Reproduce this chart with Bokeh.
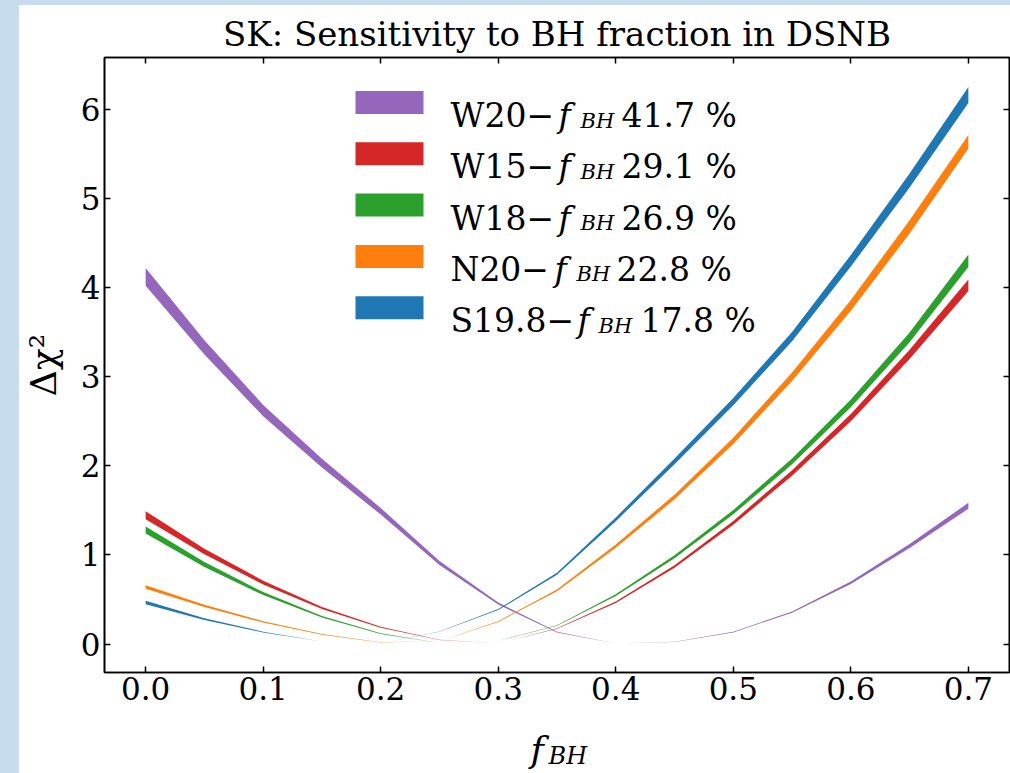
from bokeh.embed import file_html
from bokeh.layouts import column, row
from bokeh.models import (BoxAnnotation, FixedTicker, Label, LinearAxis, Plot,
                          PrintfTickFormatter, Range1d, Spacer)
from bokeh.plotting import figure
from bokeh.resources import INLINE

# ---------------------------------------------------------------- data
f_bh = [0.00, 0.05, 0.10, 0.15, 0.20, 0.25, 0.30, 0.35,
        0.40, 0.45, 0.50, 0.55, 0.60, 0.65, 0.70]

# Delta chi^2 bands (lower / upper edge) for each progenitor model
w20_lo = [4.02, 3.25, 2.557, 1.981, 1.454, 0.888, 0.444, 0.132,
          0.0078, 0.0245, 0.132, 0.353, 0.676, 1.078, 1.52]
w20_hi = [4.22, 3.41, 2.683, 2.079, 1.526, 0.932, 0.466, 0.138,
          0.0082, 0.0255, 0.138, 0.367, 0.704, 1.122, 1.585]

w15_lo = [1.40, 1.009, 0.669, 0.394, 0.183, 0.0456, 0.0078, 0.172,
          0.462, 0.856, 1.338, 1.889, 2.499, 3.198, 3.96]
w15_hi = [1.49, 1.071, 0.711, 0.418, 0.195, 0.0484, 0.0082, 0.178,
          0.478, 0.884, 1.382, 1.951, 2.581, 3.302, 4.09]

w18_lo = [1.24, 0.866, 0.550, 0.298, 0.1145, 0.0116, 0.0344, 0.2067,
          0.541, 0.964, 1.456, 2.017, 2.657, 3.385, 4.23]
w18_hi = [1.32, 0.920, 0.584, 0.316, 0.1215, 0.0124, 0.0356, 0.2133,
          0.559, 0.996, 1.504, 2.083, 2.743, 3.495, 4.37]

n20_lo = [0.62, 0.417, 0.2425, 0.1067, 0.0194, 0.0354, 0.249, 0.594,
          1.082, 1.624, 2.244, 2.952, 3.739, 4.605, 5.56]
n20_hi = [0.66, 0.443, 0.2575, 0.1133, 0.0206, 0.0366, 0.257, 0.614,
          1.118, 1.676, 2.316, 3.048, 3.861, 4.755, 5.71]

s198_lo = [0.447, 0.27, 0.1305, 0.029, 0.0098, 0.138, 0.383, 0.778,
           1.379, 2.019, 2.679, 3.398, 4.236, 5.122, 6.07]
s198_hi = [0.487, 0.29, 0.1395, 0.031, 0.0102, 0.142, 0.395, 0.802,
           1.421, 2.081, 2.761, 3.502, 4.364, 5.278, 6.25]

models = ["W20", "W15", "W18", "N20", "S19.8"]
best_fit = ["41.7 %", "29.1 %", "26.9 %", "22.8 %", "17.8 %"]
bands_lo = [w20_lo, w15_lo, w18_lo, n20_lo, s198_lo]
bands_hi = [w20_hi, w15_hi, w18_hi, n20_hi, s198_hi]
colors = ["#9467bd", "#d62728", "#2ca02c", "#ff7f0e", "#1f77b4"]

x_ticks = [0.0, 0.1, 0.2, 0.3, 0.4, 0.5, 0.6, 0.7]
y_ticks = [0, 1, 2, 3, 4, 5, 6]

# ---------------------------------------------------------------- layout
PAGE_W, PAGE_H = 1010, 773
PAGE_BG = "#c8dcf0"
SHEET_X, SHEET_Y = 19, 5            # white sheet origin inside the page
MAIN_W = PAGE_W - SHEET_X
MAIN_H = 711
XLAB_H = PAGE_H - SHEET_Y - MAIN_H  # strip holding the x axis title
FL, FT, FW, FH = 85, 52, 905, 615   # frame box inside the main figure
X_RANGE = (-0.035, 0.735)
Y_RANGE = (-0.318, 6.58)
SERIF = "DejaVu Serif"

# keep each figure's frame independent of its neighbours in the layout
NO_ALIGN = {"frame_align": False} if "frame_align" in Plot.properties() else {}


def xd(px):
    """page pixel column -> data x of the main figure"""
    return X_RANGE[0] + (px - SHEET_X - FL) / FW * (X_RANGE[1] - X_RANGE[0])


def yd(py):
    """page pixel row -> data y of the main figure"""
    return Y_RANGE[1] - (py - SHEET_Y - FT) / FH * (Y_RANGE[1] - Y_RANGE[0])


p = figure(width=MAIN_W, height=MAIN_H,
           x_range=Range1d(*X_RANGE), y_range=Range1d(*Y_RANGE),
           output_backend="svg", toolbar_location=None,
           min_border_left=FL, min_border_top=FT,
           min_border_right=MAIN_W - FL - FW,
           min_border_bottom=MAIN_H - FT - FH,
           background_fill_color="white", border_fill_color="white",
           outline_line_color="black", outline_line_width=1.6, **NO_ALIGN)
p.xgrid.grid_line_color = None
p.ygrid.grid_line_color = None

p.title.text = "SK: Sensitivity to BH fraction in DSNB"
p.title.align = "center"
p.title.text_font = SERIF
p.title.text_font_size = "34px"
p.title.text_font_style = "normal"
p.title.text_color = "black"
p.title.standoff = 7

bottom_ax = p.below[0]
left_ax = p.left[0]
top_ax = LinearAxis()
right_ax = LinearAxis()
p.add_layout(top_ax, "above")
p.add_layout(right_ax, "right")

for ax in [bottom_ax, top_ax]:
    ax.ticker = FixedTicker(ticks=x_ticks)
    ax.formatter = PrintfTickFormatter(format="%.1f")
for ax in [left_ax, right_ax]:
    ax.ticker = FixedTicker(ticks=y_ticks)
    ax.formatter = PrintfTickFormatter(format="%d")

for ax in [bottom_ax, left_ax, top_ax, right_ax]:
    ax.axis_line_color = "black"
    ax.axis_line_width = 1.6
    ax.major_tick_in = 6
    ax.major_tick_out = 0
    ax.major_tick_line_width = 1.5
    ax.major_tick_line_color = "black"
    ax.minor_tick_line_color = None
    ax.major_label_text_font = SERIF
    ax.major_label_text_font_size = "31px"
    ax.major_label_text_color = "black"
    ax.major_label_standoff = 4

# mirrored axes carry ticks only
for ax in [top_ax, right_ax]:
    ax.major_label_text_color = None
    ax.major_label_text_font_size = "1px"
    ax.major_label_standoff = 0

# y axis title
left_ax.axis_label = "\u0394\u03c7\u00b2"
left_ax.axis_label_text_font = SERIF
left_ax.axis_label_text_font_size = "36px"
left_ax.axis_label_text_font_style = "normal"
left_ax.axis_label_text_color = "black"
left_ax.axis_label_standoff = 14

# bands
for lo, hi, col in zip(bands_lo, bands_hi, colors):
    p.varea(x=f_bh, y1=lo, y2=hi, fill_color=col, fill_alpha=1.0)


def make_label(x, y, text, size, style="normal"):
    return Label(x=x, y=y, text=text, text_font=SERIF, text_font_size=size,
                 text_font_style=style, text_color="black",
                 text_align="left", text_baseline="alphabetic")


# legend
row_centres = [102, 153.3, 204.6, 255.9, 307.2]
f_pos = [558, 558, 558, 554, 577]
sub_pos = [580, 580, 580, 576, 598]
num_pos = [621, 621, 621, 616, 640]
for i, (name, pct, col) in enumerate(zip(models, best_fit, colors)):
    yc = row_centres[i]
    p.add_layout(BoxAnnotation(left=xd(355), right=xd(423),
                               top=yd(yc - 11.5), bottom=yd(yc + 11.5),
                               fill_color=col, fill_alpha=1.0,
                               line_color=None))
    base = yc + 13
    p.add_layout(make_label(xd(450), yd(base), name + "\u2212", "33px"))
    p.add_layout(make_label(xd(f_pos[i]), yd(base), "f", "33px",
                            style="italic"))
    p.add_layout(make_label(xd(sub_pos[i]), yd(base + 5), "BH", "21px",
                            style="italic"))
    p.add_layout(make_label(xd(num_pos[i]), yd(base), pct, "33px"))

# x axis title  (f_BH) in a blank strip whose data units are its pixels
xlab = figure(width=MAIN_W, height=XLAB_H,
              x_range=Range1d(0, MAIN_W), y_range=Range1d(0, XLAB_H),
              x_axis_type=None, y_axis_type=None,
              output_backend="svg", toolbar_location=None, min_border=0,
              background_fill_color="white", border_fill_color="white",
              outline_line_color=None, **NO_ALIGN)
xlab.xgrid.visible = False
xlab.ygrid.visible = False
xlab.add_layout(make_label(530 - SHEET_X, PAGE_H - 749, "f", "36px",
                           style="italic"))
xlab.add_layout(make_label(548 - SHEET_X, PAGE_H - 755, "BH", "24px",
                           style="italic"))

# ---------------------------------------------------------------- page
WHITE = {"background-color": "white"}
left_pad = Spacer(width=SHEET_X, height=PAGE_H - SHEET_Y,
                  styles={"background-color": PAGE_BG})
top_pad = Spacer(width=PAGE_W, height=SHEET_Y,
                 styles={"background-color": PAGE_BG})
sheet = column(p, xlab, styles=WHITE)
page = column(top_pad, row(left_pad, sheet),
              styles={"background-color": PAGE_BG})

with open("out.html", "w") as fh:
    fh.write(file_html(page, INLINE))
